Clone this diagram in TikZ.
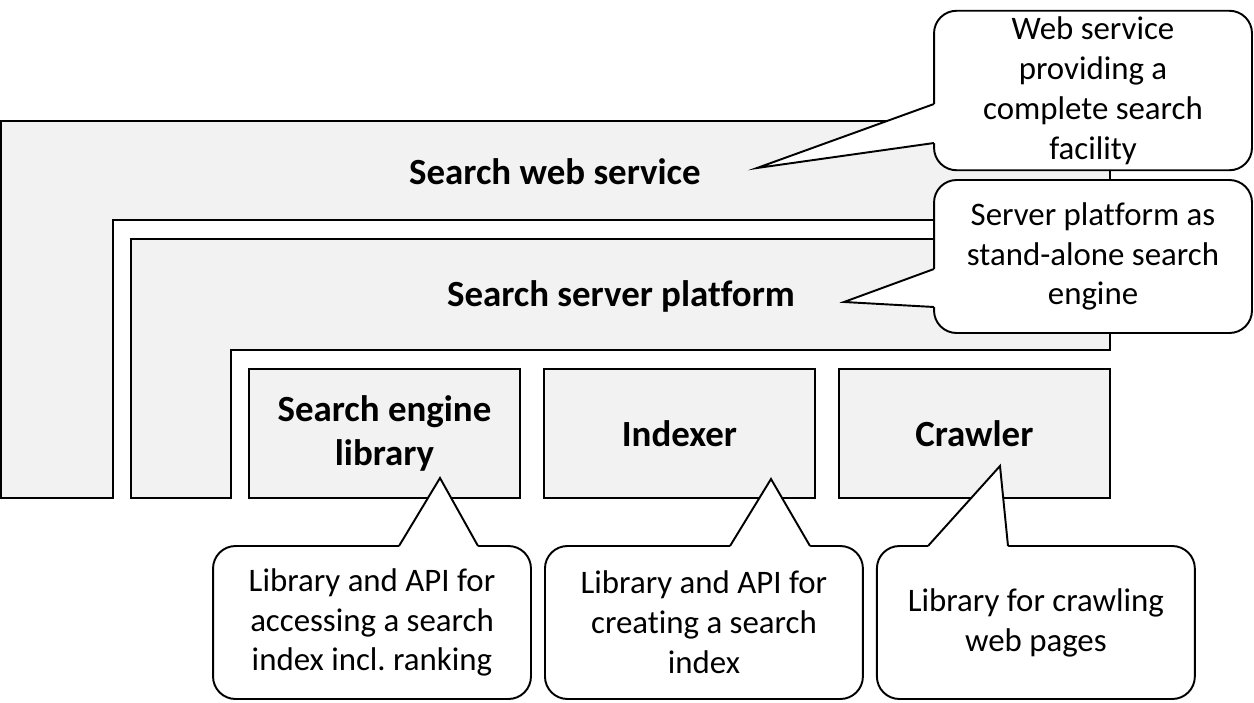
\documentclass[tikz,border=0pt]{standalone}
\usepackage{fontspec}
\setmainfont[Ligatures=CommonOff]{Carlito}
\usetikzlibrary{positioning}
\newcommand{\boldtext}{\fontsize{21}{25.5}\selectfont\bfseries}
\newcommand{\notetext}{\fontsize{18.7}{22.7}\selectfont}
\frenchspacing

\begin{document}
\begin{tikzpicture}[
x=0.02cm,y=-0.02cm,
line width=1.1pt,
layer/.style={
  draw,
  fill=black!5
  },
box/.style={
  layer,
  outer sep=0pt,
  minimum width=5.42cm,
  minimum height=2.58cm,
  align=center,
  font=\boldtext
  },
tag/.style={font=\boldtext},
note/.style={
  draw,
  fill=white,
  outer sep=0pt,
  rounded corners=0.45cm,
  minimum width=6.36cm,
  minimum height=3.06cm,
  align=center,
  font=\notetext
  },
node distance=0.48cm
]
\useasboundingbox (0,0) rectangle (1254,703);
% nested layers
\draw[layer] (1,121) -- (1110,121) -- (1110,220) -- (113,220) -- (113,498) -- (1,498) -- cycle;
\draw[layer] (131,239) -- (1110,239) -- (1110,350) -- (231,350) -- (231,498) -- (131,498) -- cycle;
\node[tag] (web) at (555,172) {Search web service};
\node[tag] (srv) at (621,296) {Search server platform};
\node[box] (lib) at (384.5,433.5) {Search engine\\library};
\node[box,right=of lib] (idx) {Indexer};
\node[box,right=of idx] (crw) {Crawler};
% callouts
\node[note] (cweb) at (1093,90.5) {Web service\\providing a\\complete search\\facility};
\node[note] (csrv) at (1093,256.5) {Server platform as\\stand-alone search\\engine};
\node[note] (clib) at (372,622.5) {Library and API for\\accessing a search\\index incl. ranking};
\node[note,right=0.28cm of clib] (cidx) {Library and API for\\creating a search\\index};
\node[note,right=0.28cm of cidx] (ccrw) {Library for crawling\\web pages};
\coordinate (tweb) at (757,168);
\coordinate (tsrv) at (844,302);
\coordinate (tlib) at (440,478);
\coordinate (tidx) at (771,479);
\coordinate (tcrw) at (1000,466);
% pointers
\foreach \Tip/\A/\B in {tweb/104/143,tsrv/269/307}
  {
  \fill[white] (\Tip) -- (934,\A) -- (937,\A) -- (937,\B) -- (934,\B) -- cycle;
  \draw[line join=miter] (934,\A) -- (\Tip) -- (934,\B);
  }
\foreach \Tip/\A/\B in {tlib/399/478,tidx/730/810,tcrw/928/1008}
  {
  \fill[white] (\Tip) -- (\A,546) -- (\A,549) -- (\B,549) -- (\B,546) -- cycle;
  \draw[line join=miter] (\A,546) -- (\Tip) -- (\B,546);
  }
\end{tikzpicture}
\end{document}
